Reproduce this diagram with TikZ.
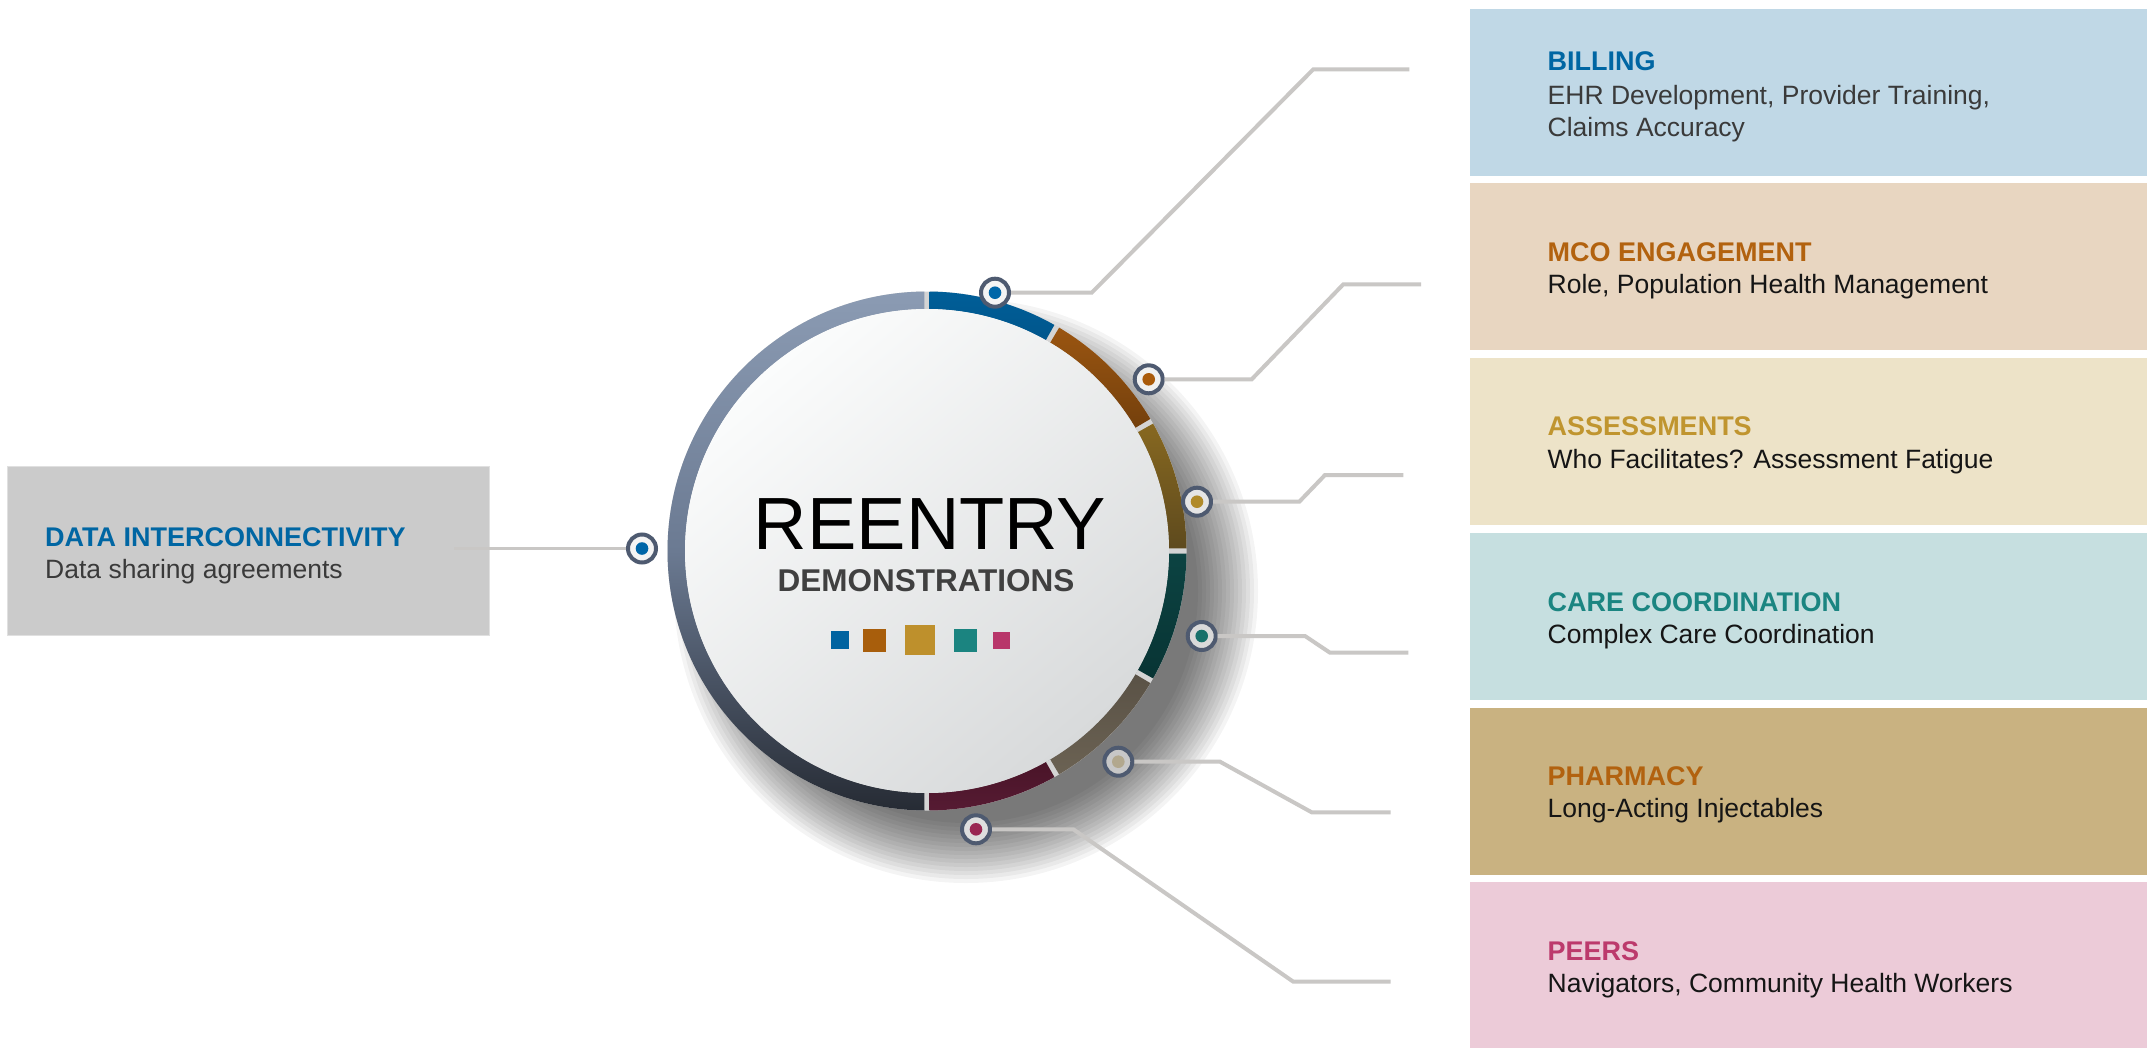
\documentclass[tikz,border=0pt]{standalone}
\usepackage{fontspec}
\setmainfont{Liberation Sans}
\usepackage{tikz}

\definecolor{boxbill}{HTML}{C0D8E6}
\definecolor{boxmco}{HTML}{E8D6C1}
\definecolor{boxassess}{HTML}{EDE3C8}
\definecolor{boxcare}{HTML}{C6DFE0}
\definecolor{boxpharm}{HTML}{C9B281}
\definecolor{boxpeer}{HTML}{ECCBD8}
\definecolor{boxdata}{HTML}{CBCBCB}
\definecolor{hdblue}{HTML}{0066A3}
\definecolor{hdorange}{HTML}{B2620F}
\definecolor{hdgold}{HTML}{C0952F}
\definecolor{hdteal}{HTML}{1B8581}
\definecolor{hdpink}{HTML}{BC3A6C}
\definecolor{subdark}{HTML}{151515}
\definecolor{subgrey}{HTML}{3A3A3A}
\definecolor{leadgrey}{HTML}{C9C7C5}
\definecolor{pinslate}{HTML}{4E5A70}
\definecolor{pinfill}{HTML}{F4F4F4}
\definecolor{dotblue}{HTML}{0066A8}
\definecolor{dotorange}{HTML}{A95A0A}
\definecolor{dotgold}{HTML}{B08A2A}
\definecolor{dotteal}{HTML}{17706A}
\definecolor{dotpharm}{HTML}{B2A88E}
\definecolor{dotpink}{HTML}{9A2652}
\definecolor{ringgap}{HTML}{D4D4D4}
\definecolor{arctop}{HTML}{8B9BB3}
\definecolor{arcmid}{HTML}{6B7A92}
\definecolor{arcbot}{HTML}{262B34}
\definecolor{blueA}{HTML}{005E98}
\definecolor{blueB}{HTML}{00568C}
\definecolor{orangeA}{HTML}{9A5511}
\definecolor{orangeB}{HTML}{74400C}
\definecolor{goldA}{HTML}{876820}
\definecolor{goldB}{HTML}{5E4A1E}
\definecolor{tealA}{HTML}{0C4342}
\definecolor{tealB}{HTML}{083434}
\definecolor{pharmA}{HTML}{5A5246}
\definecolor{pharmB}{HTML}{6B6253}
\definecolor{maroonA}{HTML}{4A1428}
\definecolor{maroonB}{HTML}{561B33}
\definecolor{facelight}{HTML}{FBFCFC}
\definecolor{facedark}{HTML}{D8DADB}
\definecolor{chipblue}{HTML}{0063A0}
\definecolor{chiporange}{HTML}{A85E0C}
\definecolor{chipgold}{HTML}{BE902C}
\definecolor{chipteal}{HTML}{1B8480}
\definecolor{chippink}{HTML}{B8366A}
\definecolor{hubgrey}{HTML}{404040}

\begin{document}
\begin{tikzpicture}[x=1pt, y=1pt,
    box/.style={rectangle, anchor=north west, minimum width=680pt, minimum height=167pt, inner sep=0pt, fill=#1},
    ttl/.style={anchor=base west, inner sep=0pt, text=#1, font=\fontsize{27}{32}\selectfont\bfseries},
    sub/.style={anchor=base west, inner sep=0pt, text=#1, font=\fontsize{26.5}{32}\selectfont},
    leader/.style={draw=leadgrey, line width=4pt},
    marker/.style={circle, draw=pinslate, line width=4pt, fill=pinfill, minimum size=28pt, inner sep=0pt,
      path picture={\fill[#1] (path picture bounding box.center) circle (6.3pt);}},
    chip/.style={rectangle, fill=#1, inner sep=0pt}]
      \def\ro{259.5}
      \def\ri{242}

      \useasboundingbox (0,0) rectangle (2147,-1047);
      \fill[white] (0,0) rectangle (2147,-1047);

      % Topic boxes on the right
      \foreach \n/\c [count=\i from 0] in {bBill/boxbill, bMco/boxmco, bAssess/boxassess, bCare/boxcare, bPharm/boxpharm, bPeer/boxpeer}
        \node[box=\c] (\n) at (1470,{-8.5-174.7*\i}) {};

      \node[box=boxdata, draw=black!12, line width=0.8pt, minimum width=482pt, minimum height=169pt] (dData) at (7,-466) {};

      % Box texts
      \node[ttl=hdblue] (tBill) at (1547.5,-70.7) {BILLING};
      \node[sub=subgrey] (sBill) at (1547.5,-104) {EHR Development, Provider Training,};
      \node[sub=subgrey] (sBillb) at (1547.5,-136) {Claims Accuracy};
      \node[ttl=hdorange] (tMco) at (1547.5,-261) {MCO ENGAGEMENT};
      \node[sub=subdark] (sMco) at (1547.5,-293.5) {Role, Population Health Management};
      \node[ttl=hdgold] (tAssess) at (1547.5,-435.7) {ASSESSMENTS};
      \node[sub=subdark] (sAssess) at (1547.5,-468.2) {Who Facilitates? Assessment Fatigue};
      \node[ttl=hdteal] (tCare) at (1547.5,-611) {CARE COORDINATION};
      \node[sub=subdark] (sCare) at (1547.5,-643.3) {Complex Care Coordination};
      \node[ttl=hdorange] (tPharm) at (1547.5,-785) {PHARMACY};
      \node[sub=subdark] (sPharm) at (1547.5,-817.5) {Long-Acting Injectables};
      \node[ttl=hdpink] (tPeer) at (1547.5,-960) {PEERS};
      \node[sub=subdark] (sPeer) at (1547.5,-992.5) {Navigators, Community Health Workers};
      \node[ttl=hdblue] (tData) at (45,-546.7) {DATA INTERCONNECTIVITY};
      \node[sub=subgrey] (sData) at (45,-578.3) {Data sharing agreements};

      % Soft drop shadow, thrown down and to the right
      \foreach \k in {0,...,15}
        \fill[black, opacity=0.045] (966,-591) circle ({292-4*\k});

      \begin{scope}[shift={(927,-551)}]
        % grey base shows through the gaps
        \fill[ringgap, even odd rule] (0,0) circle (\ro) (0,0) circle (\ri);
        % left half of the ring
        \shade[top color=arctop, bottom color=arcbot, middle color=arcmid]
          (90.6:\ro) arc (90.6:269.4:\ro) -- (269.4:\ri) arc (269.4:90.6:\ri) -- cycle;
        % six coloured segments on the right half
        \foreach \a/\ct/\cb in {90/blueA/blueB, 60/orangeA/orangeB, 30/goldA/goldB, 0/tealA/tealB, -30/pharmA/pharmB, -60/maroonA/maroonB} {
          \pgfmathsetmacro\aa{\a-0.6}
          \pgfmathsetmacro\ab{\a-29.4}
          \shade[top color=\ct, bottom color=\cb]
            (\aa:\ro) arc (\aa:\ab:\ro) -- (\ab:\ri) arc (\ab:\aa:\ri) -- cycle;
        }
        % face of the dial
        \shade[top color=facelight, bottom color=facedark, shading angle=40] (0,0) circle (\ri);
      \end{scope}

      % Hub title and colour chips
      \node[anchor=base, inner sep=0pt, font=\fontsize{74}{80}\selectfont] (hub) at (930,-549) {REENTRY};
      \node[anchor=base, inner sep=0pt, text=hubgrey, font=\fontsize{31.5}{36}\selectfont\bfseries] (hubsub) at (926,-591) {DEMONSTRATIONS};
      \node[chip=chipblue, minimum size=18pt] (cBlue) at (840,-640) {};
      \node[chip=chiporange, minimum size=23pt] (cOrange) at (874.5,-640) {};
      \node[chip=chipgold, minimum size=30pt] (cGold) at (920,-640) {};
      \node[chip=chipteal, minimum size=23pt] (cTeal) at (965.5,-640) {};
      \node[chip=chippink, minimum size=17pt] (cPink) at (1001.5,-640) {};

      % Pins round the ring
      \node[marker=dotblue] (mData) at (642,-548.5) {};
      \node[marker=dotblue] (mBill) at (995,-292.7) {};
      \node[marker=dotorange, fill=black!6] (mMco) at (1148.7,-379.3) {};
      \node[marker=dotgold, fill=black!10] (mAssess) at (1197,-501.7) {};
      \node[marker=dotteal, fill=black!15] (mCare) at (1201.7,-636) {};
      \node[marker=dotpharm, fill=black!22] (mPharm) at (1118.3,-761.7) {};
      \node[marker=dotpink, fill=black!13] (mPeer) at (976,-829.3) {};

      % Leader lines out to the boxes
      \coordinate (eBill) at (1409.3,-69.3);
      \coordinate (eMco) at (1421,-284.3);
      \coordinate (eAssess) at (1403.3,-475);
      \coordinate (eCare) at (1408.3,-652.7);
      \coordinate (ePharm) at (1390.7,-812.3);
      \coordinate (ePeer) at (1390.7,-981.7);
      \coordinate (eData) at ([xshift=-36pt]dData.east);
      \draw[leader] (mBill.east) -- (1091.7,-292.7) -- (1313.3,-69.3) -- (eBill);
      \draw[leader] (mMco.east) -- (1251.7,-379.3) -- (1343.3,-284.3) -- (eMco);
      \draw[leader] (mAssess.east) -- (1299.3,-501.7) -- (1325,-475) -- (eAssess);
      \draw[leader] (mCare.east) -- (1305,-636) -- (1330,-652.7) -- (eCare);
      \draw[leader] (mPharm.east) -- (1220,-761.7) -- (1311.7,-812.3) -- (ePharm);
      \draw[leader] (mPeer.east) -- (1073.3,-829.3) -- (1293.3,-981.7) -- (ePeer);
      \draw[leader, line width=3pt] (mData.west) -- (mData.west -| eData);

\end{tikzpicture}
\end{document}
